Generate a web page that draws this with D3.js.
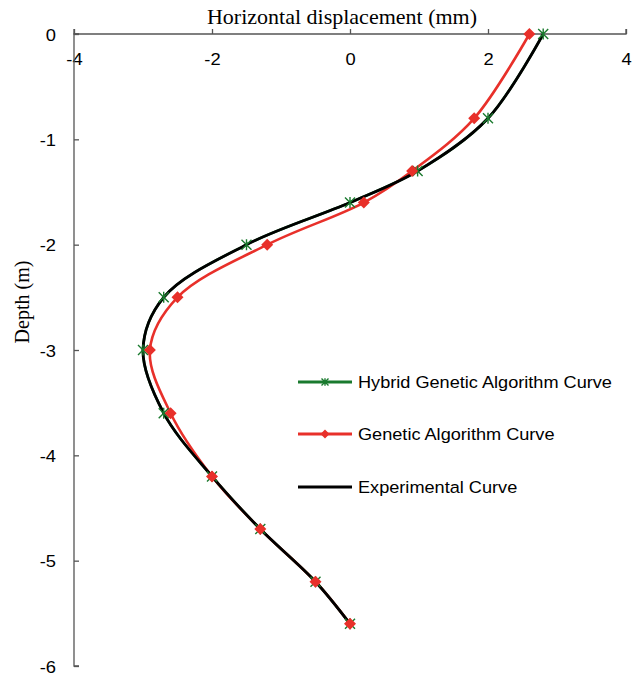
<!DOCTYPE html>
<html><head><meta charset="utf-8">
<script src="https://cdn.jsdelivr.net/npm/d3@7"></script>
<style>body{margin:0;background:#fff}svg{display:block}</style>
</head><body>
<svg id="c" width="640" height="677"></svg>
<script>
const depth = [0, -0.8, -1.3, -1.6, -2.0, -2.5, -3.0, -3.6, -4.2, -4.7, -5.2, -5.6];
const hybridX = [2.8, 2.0, 0.98, 0.0, -1.5, -2.7, -3.0, -2.7, -2.0, -1.3, -0.5, 0.0];
const gaX = [2.6, 1.8, 0.9, 0.2, -1.2, -2.5, -2.9, -2.6, -2.0, -1.3, -0.5, 0.0];
const expX = [2.8, 2.0, 0.98, 0.0, -1.5, -2.7, -3.0, -2.7, -2.0, -1.3, -0.5, 0.0];
const xTicks = [-4, -2, 0, 2, 4];
const yTicks = [0, -1, -2, -3, -4, -5, -6];
const legendNames = ["Hybrid Genetic Algorithm Curve", "Genetic Algorithm Curve", "Experimental Curve"];

const svg = d3.select("#c");
const x = d3.scaleLinear().domain([-4, 4]).range([74, 626]);
const y = d3.scaleLinear().domain([0, -6]).range([34, 666]);
const fmt = d => String(d);
const sans = "Liberation Sans, Arial, sans-serif";
const serif = "Liberation Serif, Times New Roman, serif";

const axisColor = "#555";
// x axis (top)
const xa = svg.append("g").attr("transform", `translate(0,${y(0)})`)
  .call(d3.axisTop(x).tickValues(xTicks).tickSize(5).tickFormat(fmt));
xa.select(".domain").attr("stroke", axisColor).attr("stroke-width", 1.3).attr("d", `M${x(-4)},-5V0H${x(4)}V-5`);
xa.selectAll(".tick line").attr("stroke", axisColor).attr("stroke-width", 1.3);
xa.selectAll(".tick text").attr("y", null).attr("dy", null)
  .attr("transform", "translate(0,31) scale(1.08,1)")
  .attr("font-family", sans).attr("font-size", 17).attr("fill", "#000");

// y axis (left)
const ya = svg.append("g").attr("transform", `translate(${x(-4)},0)`)
  .call(d3.axisRight(y).tickValues(yTicks).tickSize(5).tickFormat(fmt));
ya.select(".domain").attr("stroke", axisColor).attr("stroke-width", 1.3).attr("d", `M5,${y(0)}H0V${y(-6)}H5`);
ya.selectAll(".tick line").attr("stroke", axisColor).attr("stroke-width", 1.3);
ya.selectAll(".tick text").attr("x", null).attr("dy", null).attr("text-anchor", "end")
  .attr("transform", "translate(-18,6) scale(1.08,1)")
  .attr("font-family", sans).attr("font-size", 17).attr("fill", "#000");

// titles
svg.append("text").attr("x", 342).attr("y", 24).attr("text-anchor", "middle")
  .attr("font-family", serif).attr("font-size", 22)
  .text("Horizontal displacement (mm)");
svg.append("text").attr("transform", "translate(29,302) rotate(-90)").attr("text-anchor", "middle")
  .attr("font-family", serif).attr("font-size", 20)
  .text("Depth (m)");

const line = xs => d3.line().x((d, i) => x(xs[i])).y(d => y(d)).curve(d3.curveCatmullRom.alpha(0.5))(depth);

const green = "#1a7a2e", red = "#e8302a";
svg.append("path").attr("d", line(hybridX)).attr("fill", "none").attr("stroke", green).attr("stroke-width", 2.6);
svg.append("path").attr("d", line(gaX)).attr("fill", "none").attr("stroke", red).attr("stroke-width", 2.6);
svg.append("path").attr("d", line(expX)).attr("fill", "none").attr("stroke", "#000").attr("stroke-width", 2.8);

function star(g, cx, cy, s) {
  g.append("path").attr("d", `M${cx-s},${cy-s}L${cx+s},${cy+s}M${cx-s},${cy+s}L${cx+s},${cy-s}M${cx},${cy-s*1.1}V${cy+s*1.1}`)
    .attr("stroke", green).attr("stroke-width", 1.4).attr("fill", "none");
}
function diamond(g, cx, cy, s) {
  g.append("path").attr("d", `M${cx},${cy-s}L${cx+s},${cy}L${cx},${cy+s}L${cx-s},${cy}Z`).attr("fill", red);
}
const mk = svg.append("g");
depth.forEach((d, i) => star(mk, x(hybridX[i]), y(d), 5));
depth.forEach((d, i) => diamond(mk, x(gaX[i]), y(d), 6));

// legend
const lg = svg.append("g");
const rows = [382, 434, 487];
const colors = [green, red, "#000"];
legendNames.forEach((n, i) => {
  lg.append("line").attr("x1", 298).attr("x2", 352).attr("y1", rows[i]).attr("y2", rows[i])
    .attr("stroke", colors[i]).attr("stroke-width", 3);
  if (i === 0) star(lg, 325, rows[i], 3.5);
  if (i === 1) diamond(lg, 325, rows[i], 4.5);
  lg.append("text").attr("transform", `translate(358,${rows[i] + 6}) scale(1.1,1)`)
    .attr("font-family", sans).attr("font-size", 16.5).text(n);
});
</script>
</body></html>
